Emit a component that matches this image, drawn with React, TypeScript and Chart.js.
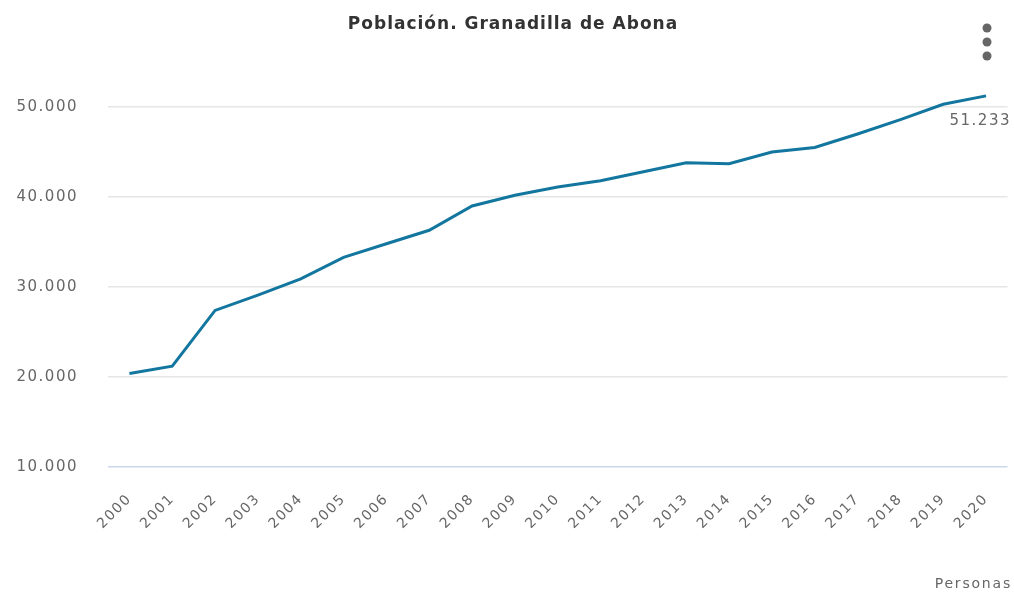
import React, { useEffect, useRef } from "react";
import { Chart, registerables } from "chart.js";

Chart.register(...registerables);

const chartTitle = "Población. Granadilla de Abona";
const unitLabel = "Personas";
const years = ["2000", "2001", "2002", "2003", "2004", "2005", "2006", "2007", "2008", "2009", "2010", "2011", "2012", "2013", "2014", "2015", "2016", "2017", "2018", "2019", "2020"];
const population = [20400, 21200, 27400, 29100, 30900, 33300, 34800, 36300, 39000, 40200, 41100, 41800, 42800, 43800, 43700, 45000, 45500, 47000, 48600, 50300, 51233];
const yTicks = [10000, 20000, 30000, 40000, 50000];

const fmt = (v: number) => String(Math.round(v)).replace(/\B(?=(\d{3})+(?!\d))/g, ".");

const FONT = "'DejaVu Sans', Verdana, sans-serif";

export default function App() {
  const ref = useRef<HTMLCanvasElement>(null);
  useEffect(() => {
    if (!ref.current) return;
    const spacing = {
      id: "spacing",
      beforeUpdate(chart: any) {
        chart.ctx.letterSpacing = "1.5px";
      },
      beforeDraw(chart: any) {
        chart.ctx.letterSpacing = "1.5px";
      },
    };
    const overlay = {
      id: "overlay",
      afterDraw(chart: any) {
        const ctx = chart.ctx;
        ctx.save();
        // title
        ctx.letterSpacing = "1px";
        ctx.fillStyle = "#333333";
        ctx.font = `bold 17px ${FONT}`;
        ctx.textAlign = "center";
        ctx.textBaseline = "middle";
        ctx.fillText(chartTitle, 513, 25);
        // last value label
        ctx.letterSpacing = "1.5px";
        const meta = chart.getDatasetMeta(0);
        const last = meta.data[meta.data.length - 1];
        ctx.fillStyle = "#666666";
        ctx.font = `15px ${FONT}`;
        ctx.textAlign = "right";
        ctx.fillText(fmt(population[population.length - 1]), 1011, last.y + 25);
        // unit label
        ctx.letterSpacing = "1.8px";
        ctx.font = `14px ${FONT}`;
        ctx.fillText(unitLabel, 1012, 584);
        // menu dots
        ctx.fillStyle = "#666666";
        [28, 42, 56].forEach((y) => {
          ctx.beginPath();
          ctx.arc(987, y, 4.5, 0, Math.PI * 2);
          ctx.fill();
        });
        ctx.restore();
      },
    };
    const chart = new Chart(ref.current, {
      type: "line",
      data: {
        labels: years,
        datasets: [
          {
            data: population,
            borderColor: "#12769f",
            borderWidth: 3,
            pointRadius: 0,
            tension: 0,
            fill: false,
          },
        ],
      },
      options: {
        responsive: false,
        animation: false,
        devicePixelRatio: 1,
        layout: { padding: { top: 80, right: 3, left: 0, bottom: 0 } },
        plugins: {
          legend: { display: false },
          tooltip: { enabled: false },
          title: { display: false },
        },
        scales: {
          x: {
            offset: true,
            grid: { display: false },
            border: { display: false },
            ticks: {
              autoSkip: false,
              maxRotation: 45,
              minRotation: 45,
              padding: 16,
              color: "#666666",
              font: { family: FONT, size: 14 },
            },
            afterFit(s: any) {
              s.height = 126;
            },
          },
          y: {
            min: 10000,
            max: 53000,
            afterBuildTicks(s: any) {
              s.ticks = yTicks.map((v) => ({ value: v }));
            },
            grid: {
              drawTicks: false,
              color: (c: any) => (c.tick && c.tick.value === 10000 ? "#ccd6eb" : "#e6e6e6"),
              lineWidth: 1.5,
            },
            border: { display: false },
            ticks: {
              padding: 30,
              color: "#666666",
              font: { family: FONT, size: 15 },
              callback: (v: any) => fmt(Number(v)),
            },
            afterFit(s: any) {
              s.width = 108;
            },
          },
        },
      },
      plugins: [spacing, overlay],
    } as any);
    return () => chart.destroy();
  }, []);
  return (
    <div style={{ position: "fixed", left: 0, top: 0, width: 1014, height: 593, background: "#fff" }}>
      <canvas ref={ref} width={1014} height={593} style={{ display: "block" }} />
    </div>
  );
}
